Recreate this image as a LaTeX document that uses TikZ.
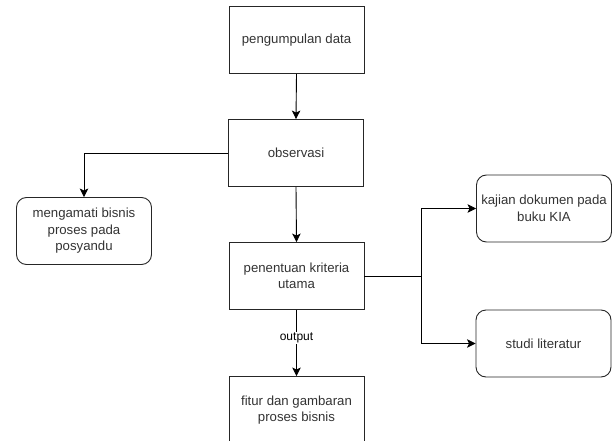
\documentclass[tikz,border=0pt]{standalone}
\usepackage{fontspec}
\setmainfont{Liberation Sans}
\usetikzlibrary{arrows.meta}
\definecolor{txt}{HTML}{333333}
\begin{document}
\begin{tikzpicture}[x=1pt,y=-1pt,
  box/.style={draw=black!85,line width=0.9pt,minimum width=135pt,minimum height=67pt,
    align=center,inner sep=0pt,text=txt,font=\fontsize{13.2}{16.5}\selectfont},
  rbox/.style={box,rounded corners=10pt},
  arr/.style={draw=black,line width=0.9pt,-{Stealth[length=8.5pt,width=8.5pt,inset=2pt]}},
  ln/.style={draw=black,line width=0.9pt},
  lbl/.style={fill=white,text=black,font=\fontsize{12}{13}\selectfont,inner sep=1pt}]
\useasboundingbox (0,0) rectangle (613,441);
\begin{scope}
\clip (0,0) rectangle (613,441);
\node[box]  (A) at (296.5,40)    {pengumpulan data};
\node[box]  (B) at (296,153)     {observasi};
\node[rbox] (C) at (84,231)      {mengamati bisnis\\proses pada\\posyandu};
\node[box]  (D) at (296.5,276)   {penentuan kriteria\\utama};
\node[rbox] (E) at (544,208.5)   {kajian dokumen pada\\buku KIA};
\node[rbox] (F) at (543.5,343.5) {studi literatur};
\node[box]  (G) at (296.5,410)   {fitur dan gambaran\\proses bisnis};
\coordinate (j) at (421,276);
\draw[arr] (A.south) -- (B.north);
\draw[arr] (B.west) -| (C.north);
\draw[arr] (B.south) -- (D.north);
\draw[ln] (D.east) -- (j);
\draw[arr] (j) |- (E.west);
\draw[arr] (j) |- (F.west);
\draw[arr] (D.south) -- node[lbl,pos=0.42] {output} (G.north);
\end{scope}
\end{tikzpicture}
\end{document}
